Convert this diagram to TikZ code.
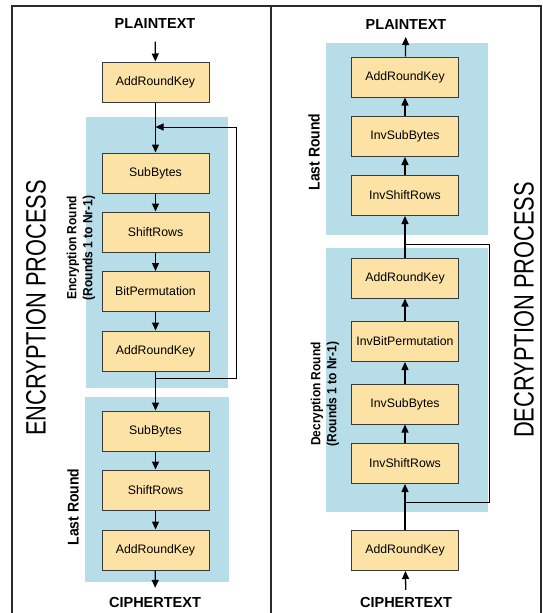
\documentclass[tikz,border=0pt]{standalone}
\usepackage{fontspec}
\setmainfont{Liberation Sans}
\newfontfamily\bigcond[FakeStretch=0.78]{Liberation Sans}
\newfontfamily\labcond[FakeStretch=0.9]{Liberation Sans}
\usetikzlibrary{arrows.meta}
\definecolor{boxfill}{HTML}{FCE2A4}
\definecolor{roundblue}{HTML}{B7DDE8}
\definecolor{boxline}{HTML}{3A3A3A}
\definecolor{frameline}{HTML}{2A2A2A}
\begin{document}
\begin{tikzpicture}[x=1pt,y=-1pt,
  stage/.style={draw=boxline, line width=1pt, fill=boxfill, minimum width=107pt, minimum height=40pt, inner sep=0pt, font=\fontsize{12.3}{14}\selectfont},
  flow/.style={line width=1.3pt, -{Triangle[width=7pt,length=8pt]}},
  backflow/.style={line width=1pt, -{Triangle[width=7pt,length=8pt]}},
  plainline/.style={line width=1pt},
  iotext/.style={font=\fontsize{14.5}{16}\selectfont\bfseries},
  bigtitle/.style={rotate=90, font=\fontsize{28}{30}\selectfont\bigcond},
  roundlabel/.style={rotate=90, align=center, font=\fontsize{13.3}{16}\selectfont\labcond\bfseries},
  lastlabel/.style={rotate=90, font=\fontsize{15.5}{18}\selectfont\labcond\bfseries},
  roundbg/.style={fill=roundblue}
]
\useasboundingbox (0,0) rectangle (542,613);
% frame
\draw[line width=1.4pt, frameline] (12,613) -- (12,6) -- (541,6) -- (541,613);
\draw[line width=1.2pt, frameline] (271,6) -- (271,613);

% blue round backgrounds
\fill[roundbg] (86,117) rectangle (228,388);
\fill[roundbg] (85,397) rectangle (229,582);
\fill[roundbg] (326,43) rectangle (488,235);
\fill[roundbg] (326,248) rectangle (488,512);

% ---------- Encryption ----------
\node[iotext] (ept) at (155,24) {PLAINTEXT};
\node[stage] (eark0) at (155.5,82) {AddRoundKey};
\node[stage] (esb1) at (155.5,173) {SubBytes};
\node[stage] (esr1) at (155.5,232) {ShiftRows};
\node[stage] (ebp) at (155.5,291.5) {BitPermutation};
\node[stage] (eark1) at (155.5,351) {AddRoundKey};
\node[stage] (esb2) at (155.5,431) {SubBytes};
\node[stage] (esr2) at (155.5,490) {ShiftRows};
\node[stage] (eark2) at (155.5,550) {AddRoundKey};
\node[iotext] (ect) at (155,603) {CIPHERTEXT};

\draw[flow, shorten <=9pt] (ept) -- (eark0);
\draw[flow] (eark0) -- (esb1);
\draw[flow] (esb1) -- (esr1);
\draw[flow] (esr1) -- (ebp);
\draw[flow] (ebp) -- (eark1);
\draw[flow] (eark1) -- (esb2);
\draw[flow] (esb2) -- (esr2);
\draw[flow] (esr2) -- (eark2);
\draw[flow, shorten >=6.5pt] (eark2) -- (ect);

\coordinate (efbA) at (155.5,378);
\coordinate (efbB) at (236,378);
\coordinate (efbC) at (236,127);
\coordinate (efbD) at (155.5,127);
\draw[backflow] (efbA) -- (efbB) -- (efbC) -- (efbD);

\node[bigtitle] (etitle) at (36,308) {ENCRYPTION PROCESS};
\node[roundlabel] (elab) at (81,248) {Encryption Round\\(Rounds 1 to Nr-1)};
\node[lastlabel] (elast) at (73,507) {Last Round};

% ---------- Decryption ----------
\node[iotext] (dpt) at (406,25) {PLAINTEXT};
\node[stage] (dark2) at (405,77) {AddRoundKey};
\node[stage] (disb2) at (405,136.5) {InvSubBytes};
\node[stage] (disr2) at (405,195.5) {InvShiftRows};
\node[stage] (dark1) at (405,278) {AddRoundKey};
\node[stage] (dibp) at (405,341.5) {InvBitPermutation};
\node[stage] (disb1) at (405,404) {InvSubBytes};
\node[stage] (disr1) at (405,463.5) {InvShiftRows};
\node[stage] (dark0) at (405,550.5) {AddRoundKey};
\node[iotext] (dct) at (406,603) {CIPHERTEXT};

\draw[flow, shorten <=4.5pt] (dct) -- (dark0);
\draw[flow] (dark0) -- (disr1);
\draw[flow] (disr1) -- (disb1);
\draw[flow] (disb1) -- (dibp);
\draw[flow] (dibp) -- (dark1);
\draw[flow] (dark1) -- (disr2);
\draw[flow] (disr2) -- (disb2);
\draw[flow] (disb2) -- (dark2);
\draw[flow, shorten >=3.5pt] (dark2) -- (dpt);

\coordinate (dfbA) at (405,502);
\coordinate (dfbB) at (489,502);
\coordinate (dfbC) at (489,244);
\coordinate (dfbD) at (405,244);
\draw[plainline] (dfbA) -- (dfbB) -- (dfbC) -- (dfbD);

\node[bigtitle] (dtitle) at (524,310) {DECRYPTION PROCESS};
\node[roundlabel] (dlab) at (325,394) {Decryption Round\\(Rounds 1 to Nr-1)};
\node[lastlabel] (dlast) at (314,152) {Last Round};
\end{tikzpicture}
\end{document}
